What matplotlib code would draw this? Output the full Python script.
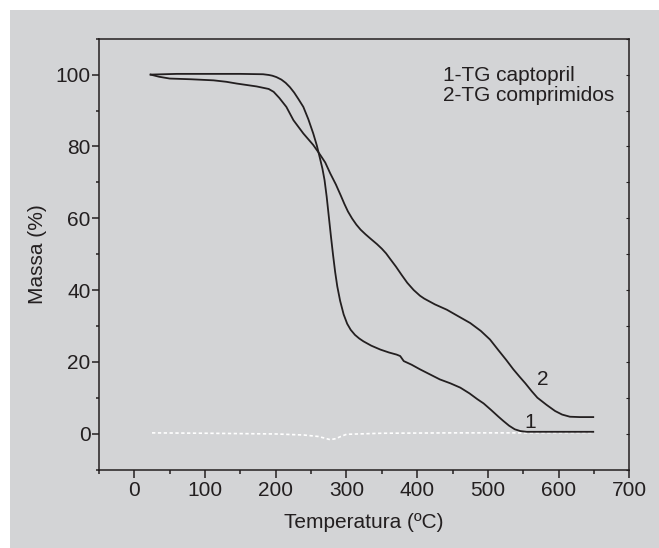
import matplotlib
matplotlib.use("Agg")
import matplotlib.pyplot as plt
from matplotlib.patches import Rectangle
from matplotlib.ticker import MultipleLocator

# ---- data ----
temp_captopril = [23, 60, 100, 150, 182, 190, 195, 201, 208, 214, 220, 226, 232, 239, 246, 253, 258,
                  262, 266, 269, 272, 275, 278, 281, 284, 287, 291, 296, 301, 306, 312, 318, 324,
                  335, 348, 360, 371, 376, 381, 392, 404, 418, 432, 447, 461, 474, 485, 494, 505,
                  515, 522, 530, 538, 546, 555, 580, 620, 649]
mass_captopril = [100, 100.2, 100.2, 100.2, 100.1, 99.9, 99.7, 99.3, 98.6, 97.7, 96.5, 95, 93.2, 91,
                  87.6, 83.6, 80.3, 77.1, 73.8, 70.6, 66, 60.5, 55, 49.8, 45, 41, 37, 33.2, 30.6,
                  28.9, 27.5, 26.5, 25.7, 24.5, 23.4, 22.6, 22, 21.6, 20.2, 19.2, 17.9, 16.5, 15.1,
                  14, 12.8, 11.2, 9.6, 8.4, 6.5, 4.7, 3.5, 2.2, 1.2, 0.7, 0.5, 0.5, 0.5, 0.5]

temp_comprimidos = [23, 35, 50, 80, 112, 130, 145, 173, 190, 197, 205, 215, 225, 239, 253, 263, 270,
                    277, 285, 292, 297, 302, 308, 314, 320, 327, 334, 343, 350, 356, 362, 370, 378,
                    386, 395, 404, 410, 425, 442, 458, 475, 490, 503, 515, 526, 536, 545, 553, 562,
                    570, 583, 595, 605, 616, 630, 649]
mass_comprimidos = [100, 99.4, 98.9, 98.7, 98.4, 98, 97.5, 96.7, 96, 95.2, 93.5, 91, 87.3, 83.6, 80.4,
                    77.6, 75.5, 72.5, 69.4, 66.3, 64, 61.9, 59.9, 58.2, 56.8, 55.5, 54.3, 52.8, 51.5,
                    50.2, 48.6, 46.5, 44.2, 42, 40, 38.4, 37.6, 36, 34.5, 32.7, 30.8, 28.6, 26.2,
                    23.2, 20.5, 17.9, 15.8, 14, 11.8, 10, 8, 6.3, 5.3, 4.7, 4.6, 4.6]

temp_baseline = [25, 100, 200, 240, 260, 270, 277, 285, 292, 300, 350, 450, 550, 649]
mass_baseline = [0.2, 0.1, -0.1, -0.4, -0.8, -1.3, -1.7, -1.4, -0.8, -0.2, 0.1, 0.2, 0.2, 0.3]

legend_lines = ["1-TG captopril", "2-TG comprimidos"]
x_ticks = [0, 100, 200, 300, 400, 500, 600, 700]
y_ticks = [0, 20, 40, 60, 80, 100]

# ---- styling ----
plt.rcParams['font.family'] = ['Liberation Sans', 'DejaVu Sans']
ink = '#231f20'
bg = '#d3d4d6'
fs = 15

fig = plt.figure(figsize=(6.59, 5.48), dpi=100, facecolor='white')
bgrect = Rectangle((10 / 659, 0), 1 - 10 / 659, 1 - 10 / 548,
                   transform=fig.transFigure, facecolor=bg, edgecolor='none', zorder=-10)
fig.add_artist(bgrect)

ax = fig.add_axes([99 / 659, 1 - 469.5 / 548, (629.3 - 99) / 659, (469.5 - 38.7) / 548])
ax.set_facecolor(bg)
ax.set_zorder(1)

ax.plot(temp_baseline, mass_baseline, color='white', lw=1.2, linestyle=(0, (2, 1.5)))
ax.plot(temp_captopril, mass_captopril, color=ink, lw=1.3)
ax.plot(temp_comprimidos, mass_comprimidos, color=ink, lw=1.3)

ax.set_xlim(-50, 700)
ax.set_ylim(-10, 110)
ax.set_xticks(x_ticks)
ax.set_yticks(y_ticks)
ax.xaxis.set_minor_locator(MultipleLocator(50))
ax.yaxis.set_minor_locator(MultipleLocator(10))

for s in ax.spines.values():
    s.set_color(ink)
    s.set_linewidth(1.1)

ax.tick_params(axis='x', which='major', direction='out', length=6, width=1.1, color=ink,
               labelsize=fs, labelcolor=ink, pad=2)
ax.tick_params(axis='x', which='minor', direction='out', length=3, width=1.1, color=ink)
ax.tick_params(axis='y', which='major', direction='out', length=5, width=1.1, color=ink,
               labelsize=fs, labelcolor=ink, pad=1)
ax.tick_params(axis='y', which='minor', direction='out', length=2, width=1.1, color=ink)

ax2 = ax.twinx()
ax2.set_ylim(ax.get_ylim())
ax2.set_yticks(y_ticks)
ax2.yaxis.set_minor_locator(MultipleLocator(10))
ax2.tick_params(axis='y', which='both', direction='in', length=2, width=0.8, color=ink,
                labelright=False)
ax2.patch.set_visible(False)
ax2.set_zorder(2)
for s in ax2.spines.values():
    s.set_visible(False)

ax.set_xlabel('Temperatura (ºC)', fontsize=fs, color=ink)
ax.set_ylabel('Massa (%)', fontsize=fs, color=ink)
ax.xaxis.set_label_coords(0.5, -0.101)
ax.yaxis.set_label_coords(-0.098, 0.5)

ax.text(436, 99.8, legend_lines[0], fontsize=fs, color=ink, va='center', ha='left')
ax.text(436, 94.3, legend_lines[1], fontsize=fs, color=ink, va='center', ha='left')
ax.text(560, 3.2, '1', fontsize=fs, color=ink, va='center', ha='center')
ax.text(577, 15.1, '2', fontsize=fs, color=ink, va='center', ha='center')

fig.savefig('out.png', dpi=100, facecolor='white')
